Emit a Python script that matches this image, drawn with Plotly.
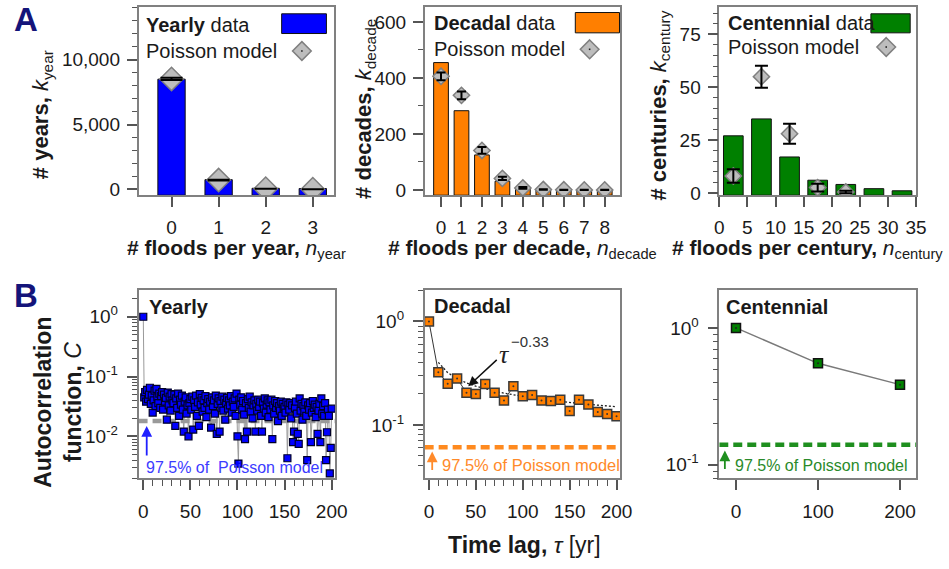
import plotly.graph_objects as go

W, H = 949, 569
FONT = "Liberation Sans, Arial, sans-serif"
INK = "#1a1a1a"

BLUE = "#0000ff"
ORANGE = "#ff7f00"
GREEN = "#008000"
DIAMOND_FILL = "#bdbdbd"
DIAMOND_EDGE = "#7f7f7f"

# ---------- panel A: number of periods with n floods ----------
n_year = [0, 1, 2, 3]
k_year = [8500, 740, 75, 55]
poisson_year = [8520, 710, 40, 5]
poisson_year_err = [90, 27, 6, 2]

n_decade = [0, 1, 2, 3, 4, 5, 6, 7, 8]
k_decade = [455, 283, 125, 31, 8, 3, 2, 1, 1]
poisson_decade = [406, 338, 141, 41, 7, 1.5, 0.3, 0.05, 0.01]
poisson_decade_err = [14, 14, 12, 6, 3, 1.2, 0.5, 0.2, 0.1]

n_century = [2.5, 7.5, 12.5, 17.5, 22.5, 27.5, 32.5]
k_century = [27, 35, 17, 6, 4, 2, 1]
n_century_model = [2.5, 7.5, 12.5, 17.5, 22.5]
poisson_century = [8, 55, 28, 2.5, 0.4]
poisson_century_err = [3.2, 5.2, 4.7, 1.8, 0.6]

# ---------- panel B: autocorrelation function ----------
lag_year = list(range(0, 201))
acf_year = [
    1.0,
    0.045, 0.055, 0.038, 0.060, 0.042, 0.050, 0.065, 0.035, 0.048, 0.025,
    0.040, 0.058, 0.032, 0.062, 0.045, 0.036, 0.052, 0.030, 0.047, 0.055,
    0.028, 0.050, 0.038, 0.044, 0.019, 0.054, 0.033, 0.046, 0.027, 0.051,
    0.040, 0.036, 0.050, 0.015, 0.043, 0.030, 0.052, 0.022, 0.041, 0.034,
    0.048, 0.028, 0.012, 0.038, 0.045, 0.024, 0.033, 0.010, 0.036, 0.042,
    0.028, 0.046, 0.013, 0.040, 0.031, 0.048, 0.022, 0.037, 0.015, 0.051,
    0.034, 0.044, 0.026, 0.040, 0.030, 0.047, 0.021, 0.036, 0.042, 0.028,
    0.038, 0.014, 0.045, 0.032, 0.040, 0.024, 0.048, 0.011, 0.035, 0.043,
    0.012, 0.039, 0.030, 0.046, 0.027, 0.041, 0.019, 0.036, 0.044, 0.029,
    0.040, 0.033, 0.047, 0.025, 0.038, 0.031, 0.043, 0.022, 0.052, 0.010,
    0.0035, 0.041, 0.034, 0.045, 0.028, 0.039, 0.023, 0.009, 0.036, 0.012,
    0.042, 0.030, 0.046, 0.026, 0.037, 0.020, 0.033, 0.040, 0.012, 0.035,
    0.027, 0.041, 0.031, 0.038, 0.022, 0.012, 0.036, 0.029, 0.043, 0.025,
    0.034, 0.040, 0.021, 0.037, 0.028, 0.041, 0.009, 0.033, 0.024, 0.039,
    0.030, 0.036, 0.018, 0.032, 0.027, 0.038, 0.022, 0.035, 0.029, 0.031,
    0.025, 0.037, 0.0043, 0.034, 0.028, 0.036, 0.020, 0.033, 0.008, 0.012,
    0.030, 0.038, 0.024, 0.011, 0.0075, 0.043, 0.027, 0.035, 0.019, 0.032,
    0.026, 0.037, 0.022, 0.004, 0.033, 0.028, 0.036, 0.008, 0.025, 0.039,
    0.030, 0.034, 0.021, 0.031, 0.011, 0.027, 0.035, 0.008, 0.043, 0.024,
    0.032, 0.022, 0.036, 0.004, 0.0117, 0.028, 0.022, 0.0024, 0.0064, 0.029,
]
lag_decade = list(range(0, 201, 10))
acf_decade = [1.0, 0.323, 0.250, 0.281, 0.204, 0.199, 0.248, 0.204, 0.172, 0.236,
              0.189, 0.194, 0.172, 0.170, 0.175, 0.136, 0.175, 0.157, 0.133, 0.127,
              0.121]
lag_century = [0, 100, 200]
acf_century = [1.0, 0.551, 0.385]

thr_year, thr_decade, thr_century = 0.0181, 0.0608, 0.140
fit_amp, fit_exp = 0.86, -0.33

# ---------- axis ranges ----------
XA = [[-0.7, 3.45], [-0.8, 8.77], [0, 35]]
YA = [[-460, 14080], [-19, 654], [-1.1, 88]]
XB = [[-5, 203.5], [-4.6, 204.2], [-20.4, 219.6]]
YB = [[-2.70, 0.45], [-1.516, 0.306], [-1.098, 0.278]]

# panel frames in pixels (left, right), (top, bottom)
PA = [(136, 335), (427.3, 626.7), (727.3, 927.7)]
PB = [(136, 336), (427.3, 626.7), (727.3, 927.7)]
A_TB = (7, 198)
B_TB = (294, 485)


def xd(lr):
    return [lr[0] / W, lr[1] / W]


def yd(tb):
    return [1 - tb[1] / H, 1 - tb[0] / H]


fig = go.Figure()

# ---------- panel A traces ----------
a_sets = [
    (n_year, k_year, poisson_year, n_year, poisson_year_err, BLUE, 0.58, 18, 11),
    (n_decade, k_decade, poisson_decade, n_decade, poisson_decade_err, ORANGE, 0.72, 12.5, 4.5),
    (n_century, k_century, poisson_century, n_century_model, poisson_century_err, GREEN, 3.5, 12.5, 6.5),
]
for i, (xs, ks, pm, xm, pe, col, bw, dsize, capw) in enumerate(a_sets):
    ax_x = "x" if i == 0 else f"x{i + 1}"
    ax_y = "y" if i == 0 else f"y{i + 1}"
    base = YA[i][0]
    fig.add_trace(go.Bar(
        x=xs, y=[k - base for k in ks], base=base, width=bw,
        marker=dict(color=col, line=dict(color="#111111", width=1)),
        xaxis=ax_x, yaxis=ax_y, showlegend=False))
    fig.add_trace(go.Scatter(
        x=xm, y=pm, mode="markers",
        marker=dict(symbol="diamond", size=dsize, color=DIAMOND_FILL,
                    line=dict(color=DIAMOND_EDGE, width=1.5)),
        xaxis=ax_x, yaxis=ax_y, showlegend=False))
    fig.add_trace(go.Scatter(
        x=xm, y=pm, mode="markers",
        marker=dict(size=2, color="rgba(0,0,0,0)"),
        error_y=dict(type="data", array=pe, color="#000000", thickness=2, width=capw),
        xaxis=ax_x, yaxis=ax_y, showlegend=False))

# ---------- panel B traces ----------
thr = [thr_year, thr_decade, thr_century]
thr_col = ["#9a9a9a", "#ff8a1f", "#1f8f1f"]
for i in range(3):
    fig.add_trace(go.Scatter(
        x=XB[i], y=[thr[i], thr[i]], mode="lines",
        line=dict(color=thr_col[i], width=4.5, dash="9px,5px"),
        xaxis=f"x{i + 4}", yaxis=f"y{i + 4}", showlegend=False))

fig.add_trace(go.Scatter(
    x=lag_year, y=acf_year, mode="lines+markers",
    line=dict(color="#9a9a9a", width=1),
    marker=dict(symbol="square", size=7, color=BLUE, line=dict(color="#000028", width=1.2)),
    xaxis="x4", yaxis="y4", showlegend=False))

lag_fit = lag_decade[1:]
fig.add_trace(go.Scatter(
    x=lag_fit, y=[fit_amp * t ** fit_exp for t in lag_fit], mode="lines",
    line=dict(color="#222222", width=1.3, dash="2px,2px"),
    xaxis="x5", yaxis="y5", showlegend=False))
fig.add_trace(go.Scatter(
    x=lag_decade, y=acf_decade, mode="lines+markers",
    line=dict(color="#333333", width=1),
    marker=dict(symbol="square", size=9, color=ORANGE, line=dict(color="#3a3a3a", width=1.5)),
    xaxis="x5", yaxis="y5", showlegend=False))
fig.add_trace(go.Scatter(
    x=lag_decade, y=acf_decade, mode="markers",
    marker=dict(size=2, color="#333333"),
    xaxis="x5", yaxis="y5", showlegend=False))

fig.add_trace(go.Scatter(
    x=lag_century, y=acf_century, mode="lines+markers",
    line=dict(color="#7a7a7a", width=1.5),
    marker=dict(symbol="square", size=9, color=GREEN, line=dict(color="#111111", width=1.5)),
    xaxis="x6", yaxis="y6", showlegend=False))
fig.add_trace(go.Scatter(
    x=lag_century, y=acf_century, mode="markers",
    marker=dict(size=2, color="#222222"),
    xaxis="x6", yaxis="y6", showlegend=False))

# ---------- axes ----------
frame = dict(showline=True, mirror=True, linecolor="#808080", linewidth=1.5,
             ticks="outside", ticklen=10, tickwidth=1.5, tickcolor="#555555",
             showgrid=False, zeroline=False, fixedrange=True,
             tickfont=dict(family=FONT, size=19, color=INK))


def minor(**kw):
    d = dict(ticks="outside", ticklen=5, tickwidth=1.2, tickcolor="#555555", showgrid=False)
    d.update(kw)
    return d


def log_minor(lo, hi):
    vals = []
    for e in range(-4, 2):
        for m in range(2, 10):
            v = m * 10 ** e
            if 10 ** lo <= v <= 10 ** hi:
                vals.append(v)
    return vals


layout_axes = {}
# panel A
a_xticks = [n_year, n_decade, list(range(0, 36, 5))]
a_yticks = [[0, 5000, 10000], [0, 200, 400, 600], [0, 25, 50, 75]]
a_minor = [1000, 100, 5]
for i in range(3):
    sx = "" if i == 0 else str(i + 1)
    layout_axes[f"xaxis{sx}"] = dict(frame, domain=xd(PA[i]), range=XA[i], anchor=f"y{sx}",
                                     tickmode="array", tickvals=a_xticks[i],
                                     ticklabelstandoff=4)
    layout_axes[f"yaxis{sx}"] = dict(frame, domain=yd(A_TB), range=YA[i], anchor=f"x{sx}",
                                     tickmode="array", tickvals=a_yticks[i], tickformat=",",
                                     ticklabelstandoff=3,
                                     minor=minor(dtick=a_minor[i], tick0=0))
# panel B
b_xticks = [[0, 50, 100, 150, 200], [0, 50, 100, 150, 200], [0, 100, 200]]
b_yticks = [[0.01, 0.1, 1], [0.1, 1], [0.1, 1]]
b_ytext = {0.01: "10<sup>-2</sup>", 0.1: "10<sup>-1</sup>", 1: "10<sup>0</sup>"}
for i in range(3):
    sx = str(i + 4)
    xa = dict(frame, domain=xd(PB[i]), range=XB[i], anchor=f"y{sx}",
              tickmode="array", tickvals=b_xticks[i], ticklabelstandoff=5)
    if i < 2:
        xa["minor"] = minor(dtick=10, tick0=0, ticklen=6)
    layout_axes[f"xaxis{sx}"] = xa
    layout_axes[f"yaxis{sx}"] = dict(frame, domain=yd(B_TB), type="log", range=YB[i],
                                     anchor=f"x{sx}", tickmode="array",
                                     tickvals=b_yticks[i],
                                     ticktext=[b_ytext[v] for v in b_yticks[i]],
                                     ticklabelstandoff=5,
                                     minor=minor(tickmode="array",
                                                 tickvals=log_minor(*YB[i])))


# ---------- text ----------
def note(x, y, text, size, xanchor="left", yanchor="middle", color=INK, angle=0,
         family=FONT, align="center"):
    return dict(x=x / W, y=1 - y / H, xref="paper", yref="paper", text=text,
                showarrow=False, xanchor=xanchor, yanchor=yanchor, textangle=angle,
                align=align, font=dict(size=size, color=color, family=family))


def arrow(x0, y0, x1, y1, color, width=1.5, head=2, hsize=1.0):
    return dict(x=x1 / W, y=1 - y1 / H, xref="paper", yref="paper",
                ax=x0 - x1, ay=y0 - y1, axref="pixel", ayref="pixel",
                text="", showarrow=True, arrowhead=head, arrowsize=hsize,
                arrowwidth=width, arrowcolor=color, standoff=0, startstandoff=0)


NAVY = "#14147a"
ann = [
    note(21, 20, "<b>A</b>", 33, xanchor="center", color=NAVY),
    note(21, 300, "<b>B</b>", 33, xanchor="center", color=NAVY),
    # panel A axis titles
    note(38.5, 116, "<b># years,</b> <i>k</i><sub>year</sub>", 22, xanchor="center", angle=-90),
    note(367, 110, "<b># decades,</b> <i>k</i><sub>decade</sub>", 22, xanchor="center", angle=-90),
    note(667, 107, "<b># centuries,</b> <i>k</i><sub>century</sub>", 22, xanchor="center", angle=-90),
    note(236, 253, "<b># floods per year,</b> <i>n</i><sub>year</sub>", 21, xanchor="center"),
    note(527, 253, "<b># floods per decade,</b> <i>n</i><sub>decade</sub>", 21, xanchor="center"),
    note(817, 253, "<b># floods per century,</b> <i>n</i><sub>century</sub>", 21, xanchor="center"),
    # panel A legends
    note(142, 25, "<b>Yearly</b> data", 20),
    note(142, 51.7, "Poisson model", 20),
    note(435, 23.3, "<b>Decadal</b> data", 20),
    note(435, 50, "Poisson model", 20),
    note(734, 23.3, "<b>Centennial</b> data", 20),
    note(734, 47.7, "Poisson model", 20),
    # panel B titles
    note(145, 311.7, "<b>Yearly</b>", 20),
    note(435, 310, "<b>Decadal</b>", 20),
    note(731.7, 311.7, "<b>Centennial</b>", 20),
    note(54.5, 408, "<b>Autocorrelation</b><br><b>function,</b> <i>C</i>", 23,
         xanchor="center", angle=-90),
    note(529, 553, "<b>Time lag,</b> <i>τ</i> [yr]", 23, xanchor="center"),
    # power-law label
    note(509, 360, "<i>τ</i>", 26, xanchor="center", family="Liberation Serif, serif",
         color="#222222"),
    note(512.7, 346.7, "−0.33", 15, color="#333333"),
    arrow(501.7, 364, 471.7, 391.7, "#111111", width=1.5, head=2, hsize=1.3),
    # Poisson 97.5% labels
    note(141.7, 474, "97.5% of\u00a0 Poisson model", 16, color="#3c3cff"),
    note(442.7, 471.7, "97.5% of Poisson model", 16.5, color="#ff8a2a"),
    note(741.7, 471.7, "97.5% of Poisson model", 16, color="#2a8a2a"),
    arrow(144.3, 463, 144.3, 432, "#2020ff", width=1.8, head=2, hsize=1.2),
    arrow(435, 478, 435, 458, "#ff8a2a", width=1.8, head=2, hsize=1.2),
    arrow(733, 477, 733, 457, "#1f8f1f", width=1.8, head=2, hsize=1.2),
]

# ---------- legend swatches ----------
shapes = []


def rect(x0, y0, x1, y1, color):
    shapes.append(dict(type="rect", xref="paper", yref="paper",
                       x0=x0 / W, x1=x1 / W, y0=1 - y1 / H, y1=1 - y0 / H,
                       fillcolor=color, line=dict(color="#111111", width=1)))


def diamond(cx, cy, h):
    pts = [(cx, cy - h), (cx + h, cy), (cx, cy + h), (cx - h, cy)]
    path = "M " + " L ".join(f"{x / W:.5f},{1 - y / H:.5f}" for x, y in pts) + " Z"
    shapes.append(dict(type="path", xref="paper", yref="paper", path=path,
                       fillcolor=DIAMOND_FILL, line=dict(color=DIAMOND_EDGE, width=1.5)))
    shapes.append(dict(type="rect", xref="paper", yref="paper",
                       x0=(cx - 0.8) / W, x1=(cx + 0.8) / W,
                       y0=1 - (cy + 0.8) / H, y1=1 - (cy - 0.8) / H,
                       fillcolor="#222222", line=dict(width=0)))


rect(281.7, 14, 327.3, 34, BLUE)
diamond(302.3, 51.7, 9.5)
rect(580.7, 12.7, 625.7, 33.3, ORANGE)
diamond(595.3, 50, 9.5)
rect(881.7, 14, 921.7, 33.3, GREEN)
diamond(897.3, 47.7, 9.5)

fig.update_layout(
    width=W, height=H, margin=dict(l=0, r=0, t=0, b=0),
    paper_bgcolor="white", plot_bgcolor="white",
    font=dict(family=FONT, color=INK),
    showlegend=False, annotations=ann, shapes=shapes,
    **layout_axes,
)

fig.write_html("out.html")
